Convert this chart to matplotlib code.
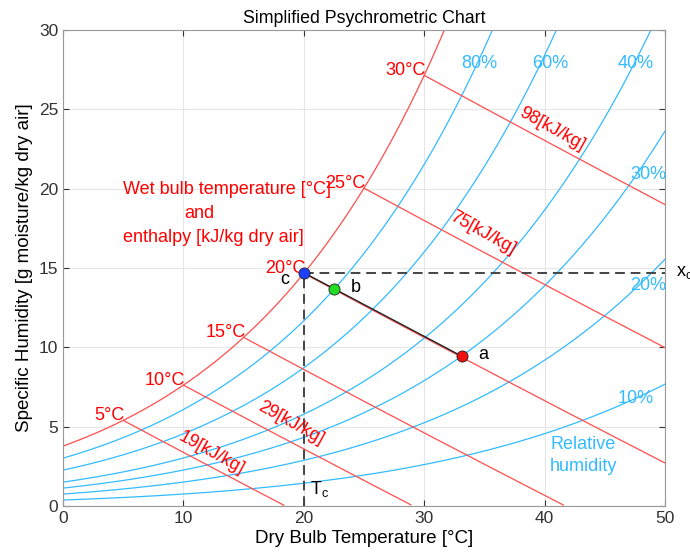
import numpy as np
import matplotlib
matplotlib.use('Agg')
import matplotlib.pyplot as plt

plt.rcParams['font.family'] = ['Liberation Sans', 'DejaVu Sans']

# relative humidity curves (fraction) and their label positions
rh_levels = [0.8, 0.6, 0.4, 0.3, 0.2, 0.1]
rh_labels = ['80%', '60%', '40%', '30%', '20%', '10%']
rh_label_x = [34.6, 40.5, 47.6, 48.6, 48.6, 47.6]
rh_label_y = [27.9, 27.9, 27.9, 20.9, 13.9, 6.8]

# wet bulb temperatures with their enthalpy line labels
wb_temps = [5, 10, 15, 20, 25, 30]
wb_labels = ['5°C', '10°C', '15°C', '20°C', '25°C', '30°C']
h_labels = ['19[kJ/kg]', '29[kJ/kg]', '75[kJ/kg]', '98[kJ/kg]']
h_label_x = [12.35, 18.9, 34.85, 40.6]
h_label_y = [3.35, 5.2, 17.2, 23.75]

# state points c, b, a
pt_names = ['c', 'b', 'a']
pt_T = [20.0, 22.5, 33.1]
pt_x = [14.7, 13.7, 9.45]
pt_col = ['#1f3fff', '#22dd22', '#ee1111']

P = 101.325  # kPa


def pws(T):
    return 0.61094 * np.exp(17.625 * T / (T + 243.04))


def w_rh(T, rh):
    p = rh * pws(T)
    return 622.0 * p / (P - p)  # g/kg


def w_enth(T, h):
    return (h - 1.006 * T) * 1000.0 / (2501.0 + 1.86 * T)


RED = '#ff4d4d'
CYAN = '#33bbff'
FS = 13

fig = plt.figure(figsize=(6.9, 5.59), dpi=100)
ax = fig.add_axes([63 / 690, 53 / 559, 602 / 690, 476 / 559])

T = np.linspace(0, 50, 400)

# saturation curve
ax.plot(T, w_rh(T, 1.0), color=RED, lw=0.9)

for rh in rh_levels:
    ax.plot(T, w_rh(T, rh), color=CYAN, lw=0.9)

# enthalpy / wet bulb lines
for tw in wb_temps:
    w0 = w_rh(tw, 1.0)
    h = 1.006 * tw + w0 * (2501 + 1.86 * tw) / 1000
    tt = np.linspace(tw, 50, 200)
    ww = w_enth(tt, h)
    ax.plot(tt[ww >= 0], ww[ww >= 0], color=RED, lw=0.9)

for tw, lab in zip(wb_temps, wb_labels):
    ax.text(tw + 0.15, w_rh(tw, 1.0) + 0.3, lab, color='red', fontsize=FS,
            ha='right', va='center')

for lab, x, y in zip(h_labels, h_label_x, h_label_y):
    ax.text(x, y, lab, color='red', fontsize=FS, rotation=-29,
            ha='center', va='center', rotation_mode='anchor')

for lab, x, y in zip(rh_labels, rh_label_x, rh_label_y):
    ax.text(x, y, lab, color=CYAN, fontsize=FS, ha='center', va='center')

ax.text(43.2, 3.2, 'Relative\nhumidity', color=CYAN, fontsize=FS,
        ha='center', va='center', linespacing=1.4)

ax.text(5.0, 19.97, 'Wet bulb temperature [°C]', color='red', fontsize=FS,
        va='center')
ax.text(10.1, 18.46, 'and', color='red', fontsize=FS, va='center')
ax.text(5.0, 16.95, 'enthalpy [kJ/kg dry air]', color='red', fontsize=FS,
        va='center')

# dashed guides from point c
ax.plot([pt_T[0], 50], [pt_x[0], pt_x[0]], color='#444444', lw=1.4,
        dashes=(5, 3))
ax.plot([pt_T[0], pt_T[0]], [0, pt_x[0]], color='#444444', lw=1.4,
        dashes=(5, 3))

# process line
ax.plot([pt_T[0], pt_T[2]], [pt_x[0], pt_x[2]], color='#222222', lw=1.0)
for tx, xx, c in zip(pt_T, pt_x, pt_col):
    ax.plot(tx, xx, 'o', ms=8, mfc=c, mec='#222222', mew=0.6, zorder=5)

ax.text(pt_T[0] - 1.6, pt_x[0] - 0.45, 'c', fontsize=FS, ha='center', va='center')
ax.text(pt_T[1] + 1.8, pt_x[1] + 0.1, 'b', fontsize=FS, ha='center', va='center')
ax.text(pt_T[2] + 1.8, pt_x[2] + 0.1, 'a', fontsize=FS, ha='center', va='center')
ax.text(20.5, 1.1, 'T$_\\mathregular{c}$', fontsize=FS, va='center')
ax.text(50.9, pt_x[0], 'x$_\\mathregular{c}$', fontsize=FS, va='center',
        clip_on=False)

ax.set_xlim(0, 50)
ax.set_ylim(0, 30)
ax.set_xticks(np.arange(0, 51, 10))
ax.set_yticks(np.arange(0, 31, 5))
ax.grid(True, color='#e6e6e6', lw=0.8)
ax.set_axisbelow(True)
ax.tick_params(direction='in', top=True, right=True, labelsize=12.5,
               colors='#333333', length=4)
for s in ax.spines.values():
    s.set_color('#999999')
    s.set_linewidth(0.8)

ax.set_title('Simplified Psychrometric Chart', fontsize=12.8, pad=5)
ax.set_xlabel('Dry Bulb Temperature [°C]', fontsize=13.5, labelpad=3)
ax.set_ylabel('Specific Humidity [g moisture/kg dry air]', fontsize=13.5,
              labelpad=4)

fig.savefig('out.png', dpi=100)
